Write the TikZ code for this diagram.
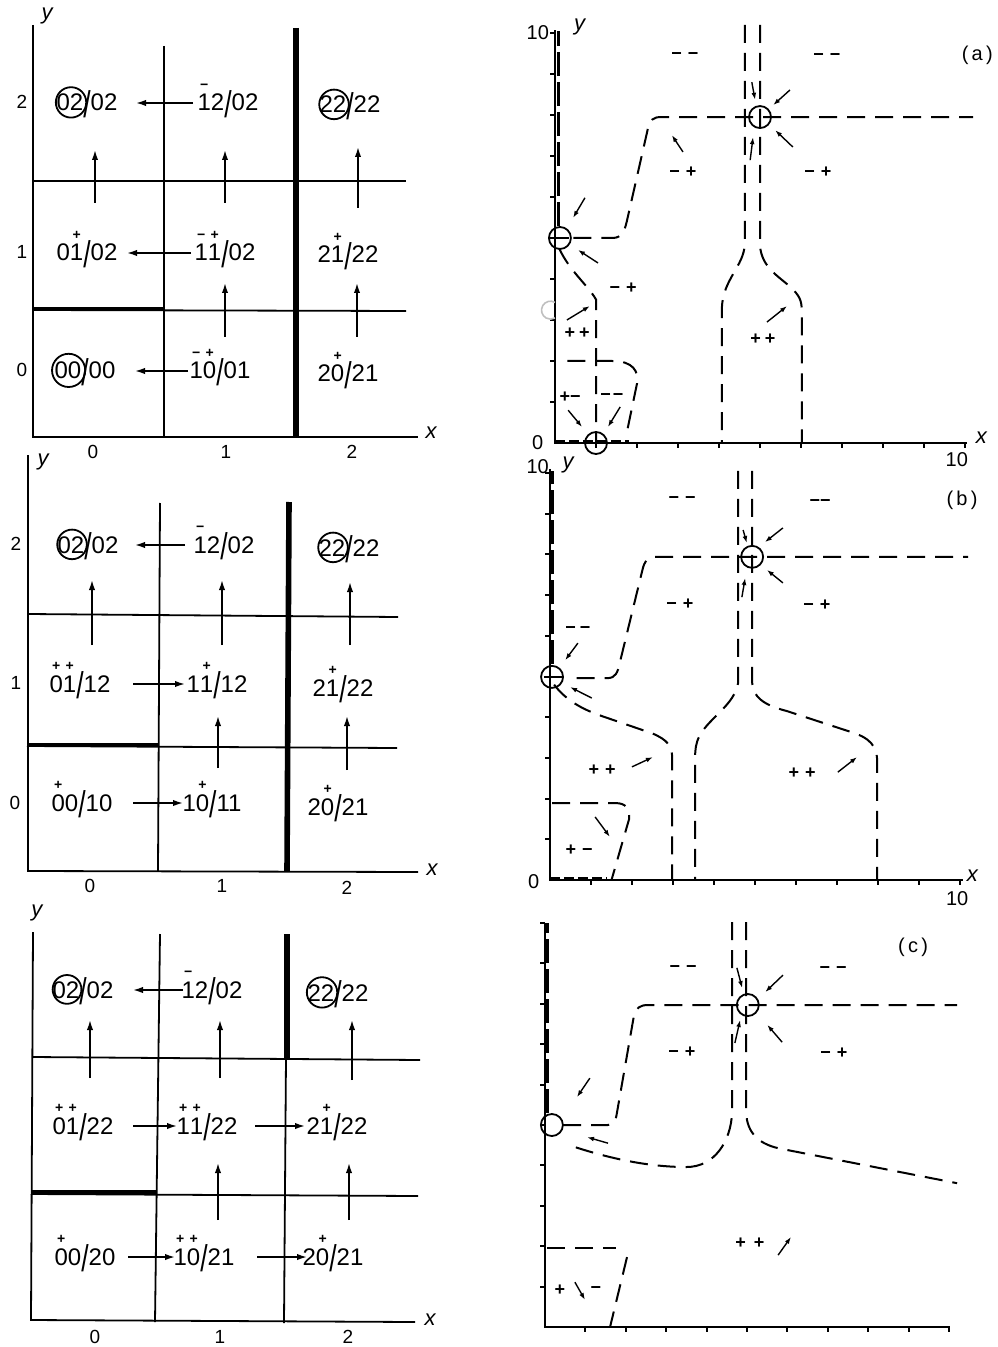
\documentclass[tikz,border=0pt]{standalone}
\usepackage{amsmath}
\usepackage{fontspec}
\setmainfont{Liberation Sans}
\usetikzlibrary{arrows.meta,calc}
\newcommand{\ov}[2]{\ensuremath{\overset{\text{\fontsize{7}{7}\selectfont\bfseries #1}}{\text{#2}}}}
\newcommand{\slh}{\raisebox{-0.5ex}{\scalebox{1.1}[1.55]{/}}}
\tikzset{
  gline/.style={line width=0.9pt},
  thk/.style={line width=2.8pt},
  thkh/.style={line width=2.2pt},
  cell/.style={inner sep=0pt, text height=12pt, text depth=4pt, font=\fontsize{12}{13}\selectfont},
  tlab/.style={inner sep=0pt, font=\fontsize{9.5}{10}\selectfont},
  axname/.style={inner sep=0pt, font=\itshape\fontsize{11}{12}\selectfont},
  arr/.style={line width=0.8pt, -{Latex[length=5pt,width=3.2pt]}},
  ring/.style={line width=0.9pt},
  axl/.style={line width=1pt},
  dsh/.style={line width=1pt, dash pattern=on 9pt off 5pt},
  axdsh/.style={line width=1.4pt, dash pattern=on 12pt off 3pt},
  fl/.style={line width=0.7pt, -{Latex[length=3.5pt,width=2.4pt]}},
  sg/.style={inner sep=0pt, font=\bfseries\fontsize{9}{10}\selectfont},
  rlab/.style={inner sep=0pt, font=\fontsize{10}{11}\selectfont},
}
\begin{document}
\begin{tikzpicture}[x=0.5pt,y=-0.5pt]
\useasboundingbox (0,0) rectangle (997,1347);

% ================= LEFT PANEL A =================
\draw[gline] (33,25) -- (33,437) -- (418,437);
\draw[gline] (164,46) -- (164,437);
\draw[thk] (296,28) -- (296,437);
\draw[gline] (33,181) -- (406,181);
\draw[gline] (33,310) -- (406,311);
\draw[thkh] (33,309) -- (164,309);
\node[axname] (lay) at (47,16) {y};
\node[axname] (lax) at (431,433) {x};
\node[tlab] (lay2) at (22,102) {2};
\node[tlab] (lay1) at (22,252) {1};
\node[tlab] (lay0) at (22,370) {0};
\node[tlab] (lax0) at (93,452) {0};
\node[tlab] (lax1) at (226,452) {1};
\node[tlab] (lax2) at (352,452) {2};

\node[cell] (A02) at (87,103) {02\slh 02};
\node[cell] (A12) at (228,103) {\ov{−}{1}2\slh 02};
\node[cell] (A22) at (350,105) {22\slh 22};
\node[cell] (A01) at (87,253) {0\ov{+}{1}\slh 02};
\node[cell] (A11) at (225,253) {\ov{−}{1}\ov{+}{1}\slh 02};
\node[cell] (A21) at (348,255) {2\ov{+}{1}\slh 22};
\node[cell] (A00) at (85,371) {00\slh 00};
\node[cell] (A10) at (220,371) {\ov{−}{1}\ov{+}{0}\slh 01};
\node[cell] (A20) at (348,374) {2\ov{+}{0}\slh 21};
\draw[ring] ($(A02.west)+(7.4pt,0.3pt)$) circle[radius=7.6pt];
\draw[ring] ($(A00.west)+(7.2pt,0.3pt)$) circle[radius=8.3pt];
\draw[ring] ($(A22.west)+(7.4pt,0.3pt)$) circle[radius=7.4pt];

\draw[arr, shorten <=17.5pt, shorten >=24.5pt] (A12.center) -- (A02.center);
\draw[arr, shorten <=17pt, shorten >=20pt] (A11.center) -- (A01.center);
\draw[arr, shorten <=16pt, shorten >=25pt] (A10.center) -- (A00.center);
\draw[arr, shorten <=25pt, shorten >=23.5pt] ($(A01.center)+(4pt,0)$) -- ($(A01.center |- A02.center)+(4pt,0)$);
\draw[arr, shorten <=25pt, shorten >=23.5pt] (A11.center) -- (A11.center |- A12.center);
\draw[arr, shorten <=23.5pt, shorten >=21pt] ($(A21.center)+(5pt,0)$) -- ($(A21.center |- A22.center)+(5pt,0)$);
\draw[arr, shorten <=17pt, shorten >=15pt] ($(A10.center)+(2.5pt,0)$) -- ($(A10.center |- A11.center)+(2.5pt,0)$);
\draw[arr, shorten <=18.5pt, shorten >=14pt] ($(A20.center)+(4.5pt,0)$) -- ($(A20.center |- A21.center)+(4.5pt,0)$);

% ================= LEFT PANEL B =================
\draw[gline] (28,455) -- (28,871) -- (418,872);
\draw[gline] (160,503) -- (158,871);
\draw[thk] (289,502) -- (287,871);
\draw[gline] (28,614) -- (398,617);
\draw[gline] (27,746) -- (397,748);
\draw[thkh] (27,745) -- (158,745);
\node[axname] (lby) at (43,462) {y};
\node[axname] (lbx) at (432,870) {x};
\node[tlab] (lby2) at (16,544) {2};
\node[tlab] (lby1) at (16,683) {1};
\node[tlab] (lby0) at (15,803) {0};
\node[tlab] (lbx0) at (90,886) {0};
\node[tlab] (lbx1) at (222,886) {1};
\node[tlab] (lbx2) at (347,888) {2};

\node[cell] (B02) at (88,545) {02\slh 02};
\node[cell] (B12) at (224,545) {\ov{−}{1}2\slh 02};
\node[cell] (B22) at (349,548) {22\slh 22};
\node[cell] (B01) at (80,684) {\ov{+}{0}\ov{+}{1}\slh 12};
\node[cell] (B11) at (217,684) {1\ov{+}{1}\slh 12};
\node[cell] (B21) at (343,688) {2\ov{+}{1}\slh 22};
\node[cell] (B00) at (82,803) {\ov{+}{0}0\slh 10};
\node[cell] (B10) at (212,803) {1\ov{+}{0}\slh 11};
\node[cell] (B20) at (338,807) {2\ov{+}{0}\slh 21};
\draw[ring] ($(B02.west)+(7.4pt,0.3pt)$) circle[radius=7.4pt];
\draw[ring] ($(B22.west)+(7.4pt,0.3pt)$) circle[radius=7.4pt];

\draw[arr, shorten <=19.5pt, shorten >=23.5pt] (B12.center) -- (B02.center);
\draw[arr, shorten <=26.5pt, shorten >=16pt] (B01.center) -- (B11.center);
\draw[arr, shorten <=25.5pt, shorten >=14.5pt] (B00.center) -- (B10.center);
\draw[arr, shorten <=19.5pt, shorten >=17.5pt] ($(B01.center)+(6pt,0)$) -- ($(B01.center |- B02.center)+(6pt,0)$);
\draw[arr, shorten <=19.5pt, shorten >=17.5pt] ($(B11.center)+(2.5pt,0)$) -- ($(B11.center |- B12.center)+(2.5pt,0)$);
\draw[arr, shorten <=21.5pt, shorten >=17pt] ($(B21.center)+(3.5pt,0)$) -- ($(B21.center |- B22.center)+(3.5pt,0)$);
\draw[arr, shorten <=17.5pt, shorten >=16pt] ($(B10.center)+(3pt,0)$) -- ($(B10.center |- B11.center)+(3pt,0)$);
\draw[arr, shorten <=18.5pt, shorten >=14pt] ($(B20.center)+(4.5pt,0)$) -- ($(B20.center |- B21.center)+(4.5pt,0)$);

% ================= LEFT PANEL C =================
\draw[gline] (33,932) -- (31,1320) -- (415,1322);
\draw[gline] (160,934) -- (155,1322);
\draw[thk] (287,934) -- (287,1058);
\draw[gline] (286,1057) -- (284,1323);
\draw[gline] (33,1057) -- (420,1060);
\draw[gline] (31,1194) -- (418,1196);
\draw[thkh] (31,1192) -- (157,1192);
\node[axname] (lcy) at (37,913) {y};
\node[axname] (lcx) at (430,1320) {x};
\node[tlab] (lcx0) at (95,1337) {0};
\node[tlab] (lcx1) at (220,1337) {1};
\node[tlab] (lcx2) at (348,1337) {2};

\node[cell] (C02) at (83,990) {02\slh 02};
\node[cell] (C12) at (212,990) {\ov{−}{1}2\slh 02};
\node[cell] (C22) at (338,993) {22\slh 22};
\node[cell] (C01) at (83,1126) {\ov{+}{0}\ov{+}{1}\slh 22};
\node[cell] (C11) at (207,1126) {\ov{+}{1}\ov{+}{1}\slh 22};
\node[cell] (C21) at (337,1126) {2\ov{+}{1}\slh 22};
\node[cell] (C00) at (85,1257) {\ov{+}{0}0\slh 20};
\node[cell] (C10) at (204,1257) {\ov{+}{1}\ov{+}{0}\slh 21};
\node[cell] (C20) at (333,1257) {2\ov{+}{0}\slh 21};
\draw[ring] ($(C02.west)+(7.4pt,0.3pt)$) circle[radius=7.2pt];
\draw[ring] ($(C22.west)+(7.4pt,0.3pt)$) circle[radius=7.6pt];

\draw[arr, shorten <=14.5pt, shorten >=25pt] (C12.center) -- (C02.center);
\draw[arr, shorten <=25pt, shorten >=15pt] (C01.center) -- (C11.center);
\draw[arr, shorten <=24pt, shorten >=16pt] (C11.center) -- (C21.center);
\draw[arr, shorten <=21.5pt, shorten >=14.5pt] (C00.center) -- (C10.center);
\draw[arr, shorten <=26.5pt, shorten >=13pt] (C10.center) -- (C20.center);
\draw[arr, shorten <=24pt, shorten >=15pt] ($(C01.center)+(3.5pt,0)$) -- ($(C01.center |- C02.center)+(3.5pt,0)$);
\draw[arr, shorten <=24pt, shorten >=15pt] ($(C11.center)+(6.5pt,0)$) -- ($(C11.center |- C12.center)+(6.5pt,0)$);
\draw[arr, shorten <=23pt, shorten >=13.5pt] ($(C21.center)+(7.5pt,0)$) -- ($(C21.center |- C22.center)+(7.5pt,0)$);
\draw[arr, shorten <=18.5pt, shorten >=18.5pt] ($(C10.center)+(7pt,0)$) -- ($(C10.center |- C11.center)+(7pt,0)$);
\draw[arr, shorten <=18.5pt, shorten >=18.5pt] ($(C20.center)+(8pt,0)$) -- ($(C20.center |- C21.center)+(8pt,0)$);

% ================= RIGHT PANEL (a) =================
\begin{scope}[shift={(555,443)},x=20.5pt,y=20.5pt]
\draw[axl] (0,10.07) -- (0,0) -- (10.05,0);
\foreach \i in {1,...,10}{\draw[axl] (\i,0) -- (\i,-0.13); \draw[axl] (0,\i) -- (-0.13,\i);}
\draw[axdsh] (0.09,5.3) -- (0.09,10.05);
\draw[line width=1.4pt, dash pattern=on 5pt off 2pt] (0,0.05) -- (1.8,0.05);
\node[rlab] (ra0) at (-0.42,0) {0};
\node[rlab] (ra10) at (-0.42,10.02) {10};
\node[axname] (ray) at (0.6,10.15) {y};
\node[axname] (rax) at (10.4,0.12) {x};
\node[rlab] (ra10x) at (9.8,-0.4) {10};
\node[rlab] (rat) at (10.3,9.45) {(\,a\,)};
% curves
\draw[dsh] (0.45,5) -- (1.4,5) .. controls (1.65,5) and (1.7,5.2) .. (1.75,5.4) -- (2.25,7.6) .. controls (2.3,7.9) and (2.4,7.95) .. (2.6,7.95) -- (10.2,7.95);
\draw[dsh] (4.63,10.2) -- (4.63,4.85) .. controls (4.6,4.3) and (4.1,4.0) .. (4.07,3.3) -- (4.07,0);
\draw[dsh] (5.0,10.2) -- (5.0,4.8) .. controls (5.05,4.3) and (5.4,4.1) .. (5.75,3.8) .. controls (5.95,3.6) and (6.02,3.5) .. (6.02,3.2) -- (6.02,0);
\draw[dsh] (0.1,4.75) .. controls (0.35,4.2) and (0.8,3.85) .. (1.0,3.5) -- (1.0,0);
\draw[dsh] (0.3,2) -- (1.4,2) .. controls (1.9,2) and (2.05,1.75) .. (2.0,1.45) -- (1.75,0.25);
\draw[gray!50, line width=0.8pt] (0.0,3.43) arc[start angle=60, end angle=300, radius=4.5pt];
% circles
\draw[ring] (0.12,5) circle[radius=5.5pt];
\draw[ring] (-0.1,5) -- (0.35,5);
\draw[ring] (5.0,7.95) circle[radius=5.5pt];
\draw[ring] (1.0,0) circle[radius=5.5pt];
% flow arrows
\draw[fl] (0.73,5.98) -- (0.44,5.49);
\draw[fl] (1.05,4.39) -- (0.56,4.71);
\draw[fl] (4.8,8.8) -- (4.88,8.37);
\draw[fl] (5.73,8.61) -- (5.32,8.24);
\draw[fl] (5.8,7.22) -- (5.37,7.63);
\draw[fl] (4.76,6.9) -- (4.83,7.46);
\draw[fl] (3.12,7.1) -- (2.85,7.51);
\draw[fl] (0.29,3.0) -- (0.85,3.34);
\draw[fl] (0.32,0.8) -- (0.66,0.39);
\draw[fl] (1.59,0.88) -- (1.29,0.39);
\draw[fl] (5.17,2.95) -- (5.66,3.34);
% signs
\node[sg] (sa1) at (3.17,9.44) {−\hspace{3pt}−};
\node[sg] (sa2) at (6.63,9.41) {−\hspace{3pt}−};
\node[sg] (sa3) at (3.12,6.61) {−\hspace{3pt}+};
\node[sg] (sa4) at (6.41,6.61) {−\hspace{3pt}+};
\node[sg] (sa5) at (1.66,3.78) {−\hspace{3pt}+};
\node[sg] (sa6) at (0.54,2.68) {+\hspace{2pt}+};
\node[sg] (sa7) at (5.07,2.54) {+\hspace{2pt}+};
\node[sg] (sa8) at (0.37,1.12) {+−};
\node[sg] (sa9) at (1.39,1.12) {−\hspace{1pt}−};
\end{scope}

% ================= RIGHT PANEL (b) =================
\begin{scope}[shift={(550,880)},x=20.5pt,y=20.35pt]
\draw[axl] (0,10.1) -- (0,0) -- (10.07,0);
\foreach \i in {1,...,10}{\draw[axl] (\i,0) -- (\i,-0.13); \draw[axl] (0,\i) -- (-0.13,\i);}
\draw[axdsh] (0.07,5.3) -- (0.07,10.05);
\draw[line width=1.4pt, dash pattern=on 5pt off 2pt] (0,0.05) -- (1.4,0.05);
\node[rlab] (rb0) at (-0.4,-0.05) {0};
\node[rlab] (rb10) at (-0.3,10.15) {10};
\node[axname] (rby) at (0.44,10.2) {y};
\node[axname] (rbx) at (10.3,0.1) {x};
\node[rlab] (rb10x) at (9.93,-0.45) {10};
\node[rlab] (rbt) at (10.05,9.34) {(\,b\,)};
% curves
\draw[dsh] (0.65,4.96) -- (1.4,4.96) .. controls (1.6,4.96) and (1.65,5.1) .. (1.7,5.33) -- (2.25,7.6) .. controls (2.3,7.85) and (2.4,7.94) .. (2.6,7.94) -- (10.2,7.94);
\draw[dsh] (4.59,10.05) -- (4.59,4.85) .. controls (4.5,4.3) and (3.9,4.0) .. (3.65,3.55) .. controls (3.55,3.35) and (3.54,3.2) .. (3.54,3.0) -- (3.54,0);
\draw[dsh] (4.93,10.05) -- (4.93,4.85) .. controls (4.95,4.5) and (5.2,4.3) .. (5.78,4.15) -- (7.3,3.65) .. controls (7.8,3.5) and (7.98,3.3) .. (7.98,2.9) -- (7.98,0);
\draw[dsh] (0.1,4.8) .. controls (0.4,4.4) and (0.8,4.2) .. (1.2,4.05) -- (2.5,3.6) .. controls (2.85,3.45) and (2.98,3.3) .. (2.98,3.0) -- (2.98,0);
\draw[dsh] (0.05,1.89) -- (1.6,1.89) .. controls (1.85,1.89) and (1.95,1.75) .. (1.93,1.5) -- (1.5,0);
% circles
\draw[ring] (4.93,7.94) circle[radius=5.5pt];
\draw[ring] (0.05,4.99) circle[radius=5.5pt];
\draw[ring] (-0.15,4.99) -- (0.3,4.99);
% flow arrows
\draw[fl] (4.71,8.6) -- (4.8,8.28);
\draw[fl] (5.68,8.65) -- (5.24,8.3);
\draw[fl] (5.68,7.3) -- (5.29,7.62);
\draw[fl] (4.68,6.95) -- (4.76,7.42);
\draw[fl] (0.68,5.82) -- (0.37,5.4);
\draw[fl] (1.02,4.47) -- (0.49,4.74);
\draw[fl] (2.0,2.78) -- (2.51,3.02);
\draw[fl] (7.02,2.65) -- (7.49,3.02);
\draw[fl] (1.1,1.55) -- (1.46,1.06);
% signs
\node[sg] (sb1) at (3.22,9.34) {−\hspace{3pt}−};
\node[sg] (sb2) at (6.59,9.26) {−\hspace{0pt}−};
\node[sg] (sb3) at (3.17,6.78) {−\hspace{3pt}+};
\node[sg] (sb4) at (6.51,6.76) {−\hspace{3pt}+};
\node[sg] (sb5) at (0.68,6.14) {−\hspace{2pt}−};
\node[sg] (sb6) at (1.27,2.7) {+\hspace{3pt}+};
\node[sg] (sb7) at (6.15,2.63) {+\hspace{3pt}+};
\node[sg] (sb8) at (0.71,0.74) {+\hspace{3pt}−};
\end{scope}

% ================= RIGHT PANEL (c) =================
\begin{scope}[shift={(545,1327)},x=20.2pt,y=20.2pt]
\draw[axl] (0,10.0) -- (0,0) -- (10.02,0);
\foreach \i in {1,...,10}{\draw[axl] (\i,0) -- (\i,-0.13); \draw[axl] (0,\i) -- (-0.13,\i);}
\draw[axdsh] (0.07,5.3) -- (0.07,10.0);
\node[rlab] (rct) at (9.11,9.41) {(\,c\,)};
% curves
\draw[dsh] (0.45,5) -- (1.55,5) .. controls (1.7,5) and (1.75,5.1) .. (1.78,5.3) -- (2.2,7.7) .. controls (2.25,7.9) and (2.35,7.97) .. (2.55,7.97) -- (10.2,7.97);
\draw[dsh] (4.63,10.02) -- (4.63,5.3) .. controls (4.6,4.6) and (4.2,3.96) .. (3.5,3.96) .. controls (2.5,3.96) and (1.5,4.2) .. (0.6,4.5);
\draw[dsh] (4.98,10.02) -- (4.98,5.3) .. controls (5.0,4.8) and (5.3,4.5) .. (5.9,4.4) -- (10.2,3.56);
\draw[dsh] (0.05,1.96) -- (1.75,1.96);
\draw[dsh] (2.03,1.73) -- (1.61,0);
% circles
\draw[ring] (5.02,7.97) circle[radius=5.5pt];
\draw[ring] (0.17,5.0) circle[radius=5.5pt];
% flow arrows
\draw[fl] (4.75,8.89) -- (4.88,8.39);
\draw[fl] (5.89,8.71) -- (5.45,8.29);
\draw[fl] (5.87,7.05) -- (5.5,7.48);
\draw[fl] (4.7,7.03) -- (4.83,7.6);
\draw[fl] (1.11,6.16) -- (0.79,5.69);
\draw[fl] (1.56,4.55) -- (1.04,4.7);
\draw[fl] (5.77,1.78) -- (6.09,2.23);
\draw[fl] (0.74,1.11) -- (0.99,0.67);
% signs
\node[sg] (sc1) at (3.42,8.86) {−\hspace{3pt}−};
\node[sg] (sc2) at (7.13,8.84) {−\hspace{3pt}−};
\node[sg] (sc3) at (3.39,6.81) {−\hspace{3pt}+};
\node[sg] (sc4) at (7.15,6.78) {−\hspace{3pt}+};
\node[sg] (sc5) at (5.07,2.08) {+\hspace{4pt}+};
\node[sg] (sc6) at (0.37,0.92) {+};
\node[sg] (sc7) at (1.26,0.92) {−};
\end{scope}
\end{tikzpicture}
\end{document}
